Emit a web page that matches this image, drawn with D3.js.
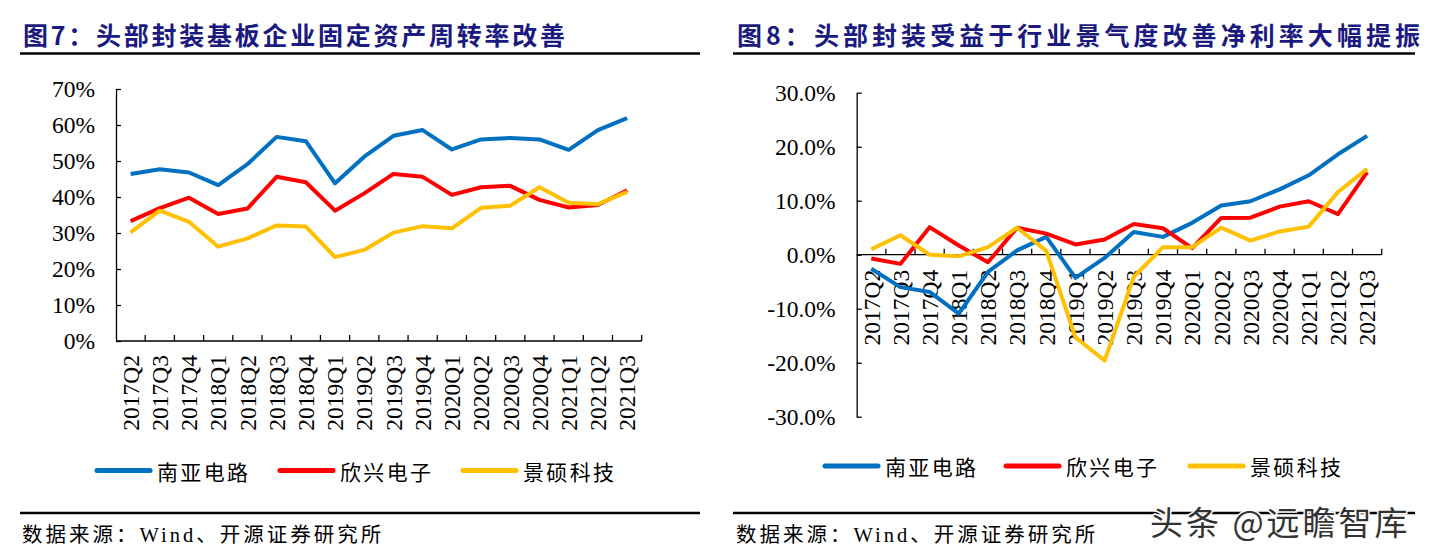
<!DOCTYPE html>
<html>
<head>
<meta charset="utf-8">
<script src="https://cdn.jsdelivr.net/npm/d3@7"></script>
<style>
  html, body { margin: 0; padding: 0; background: #fff; }
  svg { display: block; }
</style>
</head>
<body>
<svg id="chart" width="1431" height="556"></svg>
<script>
// ---------- data ----------
const categories = ["2017Q2","2017Q3","2017Q4","2018Q1","2018Q2","2018Q3","2018Q4","2019Q1","2019Q2","2019Q3","2019Q4","2020Q1","2020Q2","2020Q3","2020Q4","2021Q1","2021Q2","2021Q3"];
const seriesNames = ["南亚电路","欣兴电子","景硕科技"];

// 图7 fixed asset turnover (%)
const turnoverNanya     = [46.4,47.7,46.8,43.3,49.1,56.7,55.5,43.8,51.2,57.0,58.6,53.2,56.0,56.4,56.0,53.1,58.6,61.9];
const turnoverUnimicron = [33.3,36.9,39.8,35.3,36.8,45.6,44.1,36.2,41.0,46.4,45.6,40.6,42.7,43.1,39.2,37.1,37.8,41.9];
const turnoverKinsus    = [30.2,36.2,33.1,26.2,28.5,32.1,31.8,23.3,25.3,30.1,31.9,31.3,37.0,37.6,42.7,38.4,38.0,41.4];

// 图8 net margin (%)
const marginNanya     = [-2.6,-6.0,-6.9,-10.9,-3.2,0.8,3.3,-4.3,-0.6,4.2,3.3,5.9,9.1,9.9,12.1,14.7,18.6,22.0];
const marginUnimicron = [-0.7,-1.7,5.1,1.7,-1.4,5.0,3.9,1.9,2.8,5.7,4.9,1.2,6.8,6.85,8.9,9.9,7.5,15.3];
const marginKinsus    = [1.0,3.6,0.0,-0.3,1.4,5.0,0.7,-15.3,-19.6,-4.1,1.4,1.4,5.0,2.6,4.3,5.2,11.6,15.9];

const leftTicks  = [0,10,20,30,40,50,60,70];
const rightTicks = [-30,-20,-10,0,10,20,30];

const titleLeft  = "图7：头部封装基板企业固定资产周转率改善";
const titleRight = "图8：头部封装受益于行业景气度改善净利率大幅提振";
const sourceText = "数据来源：Wind、开源证券研究所";
const watermark  = "头条 @远瞻智库";

const colors = ["#0070C0","#FF0000","#FFC000"];

// ---------- drawing ----------
const svg = d3.select("#chart");
const serif = "'Liberation Serif','Times New Roman','Noto Sans CJK SC',serif";
const cjk = "'Noto Sans CJK SC','Liberation Serif',sans-serif";

function hyphenFormat(spec) {
  const f = d3.format(spec);
  return d => f(d).replace("\u2212", "-");
}

function panel(opts) {
  const g = svg.append("g");
  // title
  g.append("text")
    .attr("x", opts.titleX).attr("y", 33.5)
    .attr("dominant-baseline", "central")
    .attr("font-family", cjk).attr("font-weight", "bold").attr("font-size", 25)
    .attr("fill", "#1a1a80")
    .attr("textLength", opts.titleLen).attr("lengthAdjust", "spacing")
    .text(opts.title);
  g.append("line").attr("x1", opts.lineX1).attr("x2", opts.lineX2).attr("y1", 53.5).attr("y2", 53.5)
    .attr("stroke", "#000").attr("stroke-width", 2.5);

  const x = d3.scaleBand().domain(categories).range(opts.xRange).padding(0);
  const y = d3.scaleLinear().domain(opts.yDomain).range(opts.yRange);

  // y axis
  const yAxis = d3.axisLeft(y).tickValues(opts.ticks.map(d => d / 100))
    .tickFormat(opts.fmt).tickSizeInner(-5).tickSizeOuter(0).tickPadding(21);
  const ya = g.append("g").attr("transform", `translate(${opts.xRange[0]},0)`).call(yAxis);
  ya.selectAll("text").attr("font-family", serif).attr("font-size", 23.5).attr("fill", "#000");
  ya.selectAll("line,path").attr("stroke", "#000").attr("stroke-width", 1.3);

  // x axis (ticks at band boundaries)
  const y0 = y(opts.xAxisAt);
  const xa = g.append("g");
  xa.append("line").attr("x1", opts.xRange[0]).attr("x2", opts.xRange[1]).attr("y1", y0).attr("y2", y0)
    .attr("stroke", "#000").attr("stroke-width", 1.3);
  const bounds = categories.map(c => x(c) + x.bandwidth());
  xa.selectAll("line.tick").data(bounds).join("line").attr("class", "tick")
    .attr("x1", d => d).attr("x2", d => d).attr("y1", y0).attr("y2", y0 - 6)
    .attr("stroke", "#000").attr("stroke-width", 1.3);
  xa.selectAll("text").data(categories).join("text")
    .attr("transform", d => `translate(${x(d) + x.bandwidth() / 2},${y0}) rotate(-90)`)
    .attr("x", -opts.labelGap).attr("y", 0).attr("dy", "0.35em")
    .attr("text-anchor", "end")
    .attr("font-family", serif).attr("font-size", 23.5).attr("fill", "#000")
    .text(d => d);

  // lines
  const line = d3.line().x((d, i) => x(categories[i]) + x.bandwidth() / 2).y(d => y(d / 100));
  opts.series.forEach((s, k) => {
    g.append("path").datum(s).attr("d", line)
      .attr("fill", "none").attr("stroke", colors[k]).attr("stroke-width", 4)
      .attr("stroke-linejoin", "round");
  });

  // legend
  opts.legend.forEach((lx, k) => {
    g.append("line").attr("x1", lx).attr("x2", lx + 53).attr("y1", opts.legendY).attr("y2", opts.legendY)
      .attr("stroke", colors[k]).attr("stroke-width", 5).attr("stroke-linecap", "round");
    g.append("text").attr("x", lx + 60).attr("y", opts.legendY)
      .attr("dominant-baseline", "central")
      .attr("font-family", cjk).attr("font-size", 21).attr("fill", "#000")
      .attr("textLength", 91).attr("lengthAdjust", "spacing")
      .text(seriesNames[k]);
  });

  // footer
  g.append("line").attr("x1", opts.lineX1).attr("x2", opts.lineX2).attr("y1", 513).attr("y2", 513)
    .attr("stroke", "#000").attr("stroke-width", 2.5);
  g.append("text").attr("x", opts.titleX - 1).attr("y", 535)
    .attr("dominant-baseline", "central")
    .attr("font-family", serif).attr("font-size", 20.5).attr("fill", "#000")
    .attr("letter-spacing", 3)
    .text(sourceText);
}

panel({
  title: titleLeft, titleX: 23, titleLen: 542, lineX1: 20, lineX2: 700,
  xRange: [116, 641.7], yDomain: [0, 0.7], yRange: [341, 89],
  ticks: leftTicks, fmt: hyphenFormat(".0%"), xAxisAt: 0, labelGap: 14,
  series: [turnoverNanya, turnoverUnimicron, turnoverKinsus],
  legend: [97, 280, 463], legendY: 470.5
});

panel({
  title: titleRight, titleX: 737, titleLen: 683, lineX1: 733, lineX2: 1415,
  xRange: [856.7, 1381.7], yDomain: [-0.3, 0.3], yRange: [416.7, 92.7],
  ticks: rightTicks, fmt: hyphenFormat(".1%"), xAxisAt: 0, labelGap: 15,
  series: [marginNanya, marginUnimicron, marginKinsus],
  legend: [825, 1006, 1190], legendY: 466
});

// watermark
svg.append("text").attr("x", 1150).attr("y", 521)
  .attr("dominant-baseline", "central")
  .attr("font-family", cjk).attr("font-size", 33).attr("fill", "#333")
  .attr("stroke", "#fff").attr("stroke-width", 3).attr("paint-order", "stroke")
  .attr("letter-spacing", 3)
  .text(watermark);
</script>
</body>
</html>
